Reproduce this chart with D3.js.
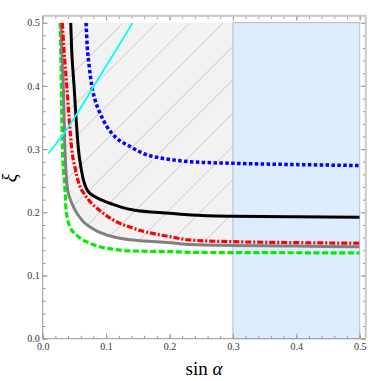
<!DOCTYPE html>
<html>
<head>
<meta charset="utf-8">
<script src="https://cdn.jsdelivr.net/npm/d3@7"></script>
<style>
  body { margin: 0; background: #fff; }
  svg { display: block; }
</style>
</head>
<body>
<div id="figure_xi_div"></div>
<script>
// curves: [sin alpha, xi]
var blue_points = [
    [0.0683, 0.5], [0.0703, 0.462], [0.0735, 0.430], [0.0773, 0.401], [0.0825, 0.378],
    [0.0904, 0.357], [0.101, 0.336], [0.117, 0.317], [0.138, 0.304], [0.159, 0.293],
    [0.185, 0.286], [0.2166, 0.2816], [0.234, 0.280], [0.30, 0.2775], [0.40, 0.2755], [0.5, 0.274]
];
var black_points = [
    [0.0442, 0.5], [0.0457, 0.457], [0.0473, 0.430], [0.0494, 0.401], [0.0525, 0.351],
    [0.0562, 0.301], [0.0605, 0.270], [0.0645, 0.250], [0.069, 0.2375], [0.075, 0.2295],
    [0.0825, 0.2245], [0.0904, 0.2205], [0.100, 0.2165], [0.111, 0.2125], [0.125, 0.2078],
    [0.143, 0.2036], [0.2008, 0.1984], [0.234, 0.1957], [0.30, 0.1937], [0.40, 0.1928], [0.5, 0.192]
];
var red_points = [
    [0.031, 0.5], [0.0336, 0.457], [0.0379, 0.401], [0.0415, 0.351], [0.0457, 0.301],
    [0.0515, 0.268], [0.0575, 0.2445], [0.0655, 0.229], [0.0746, 0.217], [0.0904, 0.2025],
    [0.111, 0.188], [0.143, 0.1747], [0.2008, 0.1614], [0.234, 0.156], [0.30, 0.1535],
    [0.40, 0.152], [0.5, 0.151]
];
var gray_points = [
    [0.0289, 0.5], [0.031, 0.43], [0.0325, 0.401], [0.035, 0.301], [0.0394, 0.235],
    [0.043, 0.222], [0.051, 0.2035], [0.0615, 0.188], [0.0825, 0.172], [0.111, 0.1614],
    [0.143, 0.156], [0.2008, 0.1519], [0.234, 0.149], [0.30, 0.1475], [0.40, 0.1465], [0.5, 0.1456]
];
var green_points = [
    [0.0273, 0.5], [0.0289, 0.43], [0.031, 0.301], [0.0352, 0.235], [0.0368, 0.2035],
    [0.043, 0.177], [0.0562, 0.1614], [0.0746, 0.151], [0.111, 0.1415], [0.143, 0.1388],
    [0.2008, 0.1377], [0.234, 0.1367], [0.30, 0.1362], [0.40, 0.136], [0.5, 0.1356]
];
var cyan_points = [
    [0.0088, 0.2934], [0.03, 0.320], [0.051, 0.351], [0.0814, 0.401], [0.112, 0.451], [0.142, 0.5]
];

// shaded regions
var hatch_region_x_max = 0.3;
var hatch_region_top = 0.5;
var blue_band_x = [0.3, 0.5];
var blue_band_y = [0, 0.5];

var x_major_ticks = [0, 0.1, 0.2, 0.3, 0.4, 0.5];
var y_major_ticks = [0, 0.1, 0.2, 0.3, 0.4, 0.5];

function figure_xi() {
    var width = 382;
    var height = 381;

    var x = d3.scaleLinear().domain([0, 0.5]).range([42.7, 359.7]);
    var y = d3.scaleLinear().domain([0, 0.5]).range([338.7, 22.7]);
    var x_frame = 0.5095;
    var y_frame = 0.511;
    var minor_ticks = d3.range(0, 0.501, 0.02);

    var svg = d3.select('#figure_xi_div')
        .append('svg')
        .attr('width', width)
        .attr('height', height);

    var defs = svg.append('defs');
    defs.append('clipPath')
        .attr('id', 'plot_clip')
        .append('rect')
        .attr('x', x(0))
        .attr('y', y(0.5))
        .attr('width', x(0.5) - x(0))
        .attr('height', y(0) - y(0.5));

    // hatched region above the gray curve
    var region_pts = gray_points.filter(function(d) { return d[0] <= hatch_region_x_max; });
    var region_area = d3.area()
        .x(function(d) { return x(d[0]); })
        .y0(function(d) { return y(d[1]); })
        .y1(y(hatch_region_top))
        .curve(d3.curveMonotoneX);

    defs.append('clipPath')
        .attr('id', 'hatch_clip')
        .append('path')
        .attr('d', region_area(region_pts));

    svg.append('path')
        .attr('d', region_area(region_pts))
        .attr('fill', '#f2f2f2');

    var hatch_group = svg.append('g').attr('clip-path', 'url(#hatch_clip)');
    var hatch_step = 33.3;
    var hatch_offsets = d3.range(246 - 6 * hatch_step, 246 + 12 * hatch_step, hatch_step);
    hatch_group.selectAll('line')
        .data(hatch_offsets)
        .enter()
        .append('line')
        .attr('x1', function(c) { return c - y(0); })
        .attr('y1', y(0))
        .attr('x2', function(c) { return c - y(0.5); })
        .attr('y2', y(0.5))
        .attr('stroke', '#c4c4c4')
        .attr('stroke-width', 0.9);

    // blue band
    svg.append('rect')
        .attr('x', x(blue_band_x[0]))
        .attr('y', y(blue_band_y[1]))
        .attr('width', x(blue_band_x[1]) - x(blue_band_x[0]))
        .attr('height', y(blue_band_y[0]) - y(blue_band_y[1]))
        .attr('fill', '#ddedfd')
        .attr('stroke', '#b8bcc0')
        .attr('stroke-width', 1);

    // axes and ticks
    var tick_fmt = d3.format('.1f');
    function style_axis(g) {
        g.select('.domain').remove();
        g.selectAll('line').attr('stroke', '#999').attr('stroke-width', 1);
        g.selectAll('text')
            .attr('fill', '#333')
            .style('font-family', '"Liberation Serif", "DejaVu Serif", serif')
            .style('font-size', '10px');
    }

    svg.append('g')
        .attr('transform', `translate(0, ${y(0)})`)
        .call(d3.axisBottom(x).tickValues(minor_ticks).tickSize(-3).tickFormat(''))
        .call(style_axis);
    svg.append('g')
        .attr('transform', `translate(0, ${y(0)})`)
        .call(d3.axisBottom(x).tickValues(x_major_ticks).tickSize(-5).tickPadding(4).tickFormat(tick_fmt))
        .call(style_axis);
    svg.append('g')
        .attr('transform', `translate(${x(0)}, 0)`)
        .call(d3.axisLeft(y).tickValues(minor_ticks).tickSize(-3).tickFormat(''))
        .call(style_axis);
    svg.append('g')
        .attr('transform', `translate(${x(0)}, 0)`)
        .call(d3.axisLeft(y).tickValues(y_major_ticks).tickSize(-5).tickPadding(3).tickFormat(tick_fmt))
        .call(style_axis);
    svg.append('g')
        .attr('transform', `translate(0, ${y(y_frame)})`)
        .call(d3.axisTop(x).tickValues(minor_ticks).tickSize(-3).tickFormat(''))
        .call(style_axis);
    svg.append('g')
        .attr('transform', `translate(0, ${y(y_frame)})`)
        .call(d3.axisTop(x).tickValues(x_major_ticks).tickSize(-5).tickFormat(''))
        .call(style_axis);
    svg.append('g')
        .attr('transform', `translate(${x(x_frame)}, 0)`)
        .call(d3.axisRight(y).tickValues(minor_ticks).tickSize(-3).tickFormat(''))
        .call(style_axis);
    svg.append('g')
        .attr('transform', `translate(${x(x_frame)}, 0)`)
        .call(d3.axisRight(y).tickValues(y_major_ticks).tickSize(-5).tickFormat(''))
        .call(style_axis);

    // frame
    var frame = svg.append('g').attr('fill', 'none');
    frame.append('path')
        .attr('d', `M${x(x_frame)},${y(y_frame)}H${x(0)}V${y(0)}H${x(x_frame)}`)
        .attr('stroke', '#999')
        .attr('stroke-width', 1);
    frame.append('path')
        .attr('d', `M${x(0)},${y(y_frame)}H${x(x_frame)}V${y(0)}`)
        .attr('stroke', '#c8c8c8')
        .attr('stroke-width', 2);

    // curves
    var curves = [
        { id: 'green', pts: green_points, color: '#00ee00', width: 3.2, dash: '6,2.6' },
        { id: 'gray', pts: gray_points, color: '#808080', width: 3, dash: null },
        { id: 'red', pts: red_points, color: '#ff0000', width: 3.2, dash: '6,2,2,2' },
        { id: 'black', pts: black_points, color: '#000000', width: 3, dash: null },
        { id: 'blue', pts: blue_points, color: '#0000ff', width: 3.5, dash: '3.5,2.4' },
        { id: 'cyan', pts: cyan_points, color: '#00ffff', width: 1.8, dash: null }
    ];

    var line = d3.line()
        .x(function(d) { return x(d[0]); })
        .y(function(d) { return y(d[1]); })
        .curve(d3.curveMonotoneX);

    svg.append('g')
        .attr('clip-path', 'url(#plot_clip)')
        .selectAll('path')
        .data(curves)
        .enter()
        .append('path')
        .attr('id', function(d) { return d.id + '_curve'; })
        .attr('d', function(d) { return line(d.pts); })
        .attr('fill', 'none')
        .attr('stroke', function(d) { return d.color; })
        .attr('stroke-width', function(d) { return d.width; })
        .attr('stroke-dasharray', function(d) { return d.dash; });

    // axis titles
    svg.append('text')
        .attr('transform', 'translate(17, 178) rotate(-90)')
        .attr('text-anchor', 'middle')
        .style('font-family', '"Liberation Serif", "DejaVu Serif", serif')
        .style('font-style', 'italic')
        .style('font-size', '20px')
        .text('ξ');

    var x_title = svg.append('text')
        .attr('x', 204)
        .attr('y', 375)
        .attr('text-anchor', 'middle')
        .style('font-family', '"Liberation Serif", "DejaVu Serif", serif')
        .style('font-size', '19px');
    x_title.append('tspan').text('sin ');
    x_title.append('tspan').style('font-style', 'italic').text('α');
}

figure_xi();
</script>
</body>
</html>
